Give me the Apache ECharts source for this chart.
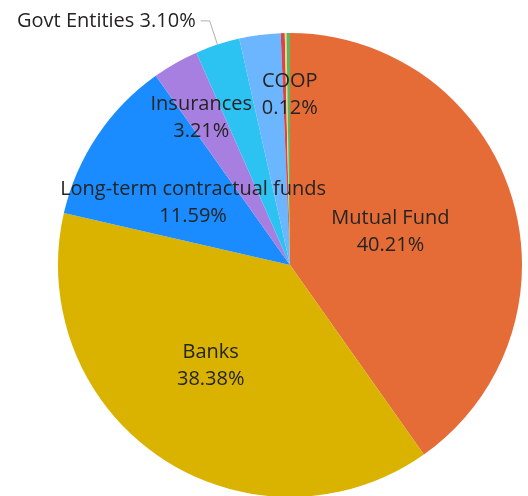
<!DOCTYPE html>
<html>
<head>
<meta charset="utf-8">
<script src="https://cdn.jsdelivr.net/npm/echarts@6/dist/echarts.min.js"></script>
<style>html,body{margin:0;padding:0;background:#fff;}#c{width:528px;height:496px;}</style>
</head>
<body>
<div id="c"></div>
<script>
const categories = ['Mutual Fund', 'Banks', 'Long-term contractual funds', 'Insurances', 'Govt Entities', 'Others', 'Other', 'COOP', 'Other 2'];
const values = [40.21, 38.38, 11.59, 3.21, 3.10, 2.87, 0.28, 0.12, 0.24];
const colors = ['#E66C37', '#D9B300', '#1A8CFF', '#A77FE0', '#2CC3F2', '#6BB6FF', '#D64550', '#F0DC6E', '#5FB65F'];

const txt = '#252423';
const font = 'Open Sans';
const fmt2 = p => p.name + '\n' + Number(p.value).toFixed(2) + '%';
const fmt1 = p => p.name + ' ' + Number(p.value).toFixed(2) + '%';
const insideLabel = {show: true, position: 'inside', formatter: fmt2, color: txt, fontFamily: font, fontSize: 20, lineHeight: 27};
const labelCfg = [
  Object.assign({}, insideLabel, {offset: [-13, 3]}),
  Object.assign({}, insideLabel, {offset: [-13, 2]}),
  Object.assign({}, insideLabel, {offset: [2, 4]}),
  Object.assign({}, insideLabel, {offset: [-30, -44]}),
  {show: true, position: 'outside', formatter: fmt1, color: txt, fontFamily: font, fontSize: 20},
  {show: false},
  {show: false},
  Object.assign({}, insideLabel, {offset: [2, -51]}),
  {show: false}
];
const lineCfg = [
  {show: false}, {show: false}, {show: false}, {show: false},
  {show: true, length: 25, length2: 9, lineStyle: {color: '#b0b0b0', width: 1}},
  {show: false}, {show: false}, {show: false}, {show: false}
];

const data = categories.map((n, i) => ({
  name: n, value: values[i],
  itemStyle: {color: colors[i]},
  label: labelCfg[i],
  labelLine: lineCfg[i]
}));

const chart = echarts.init(document.getElementById('c'), null, {renderer: 'canvas'});
chart.setOption({
  animation: false,
  backgroundColor: '#ffffff',
  series: [{
    type: 'pie',
    center: [290, 265],
    radius: 232,
    startAngle: 90,
    clockwise: true,
    avoidLabelOverlap: false,
    minAngle: 0,
    itemStyle: {borderWidth: 0},
    emphasis: {disabled: true},
    data: data
  }]
});
</script>
</body>
</html>
